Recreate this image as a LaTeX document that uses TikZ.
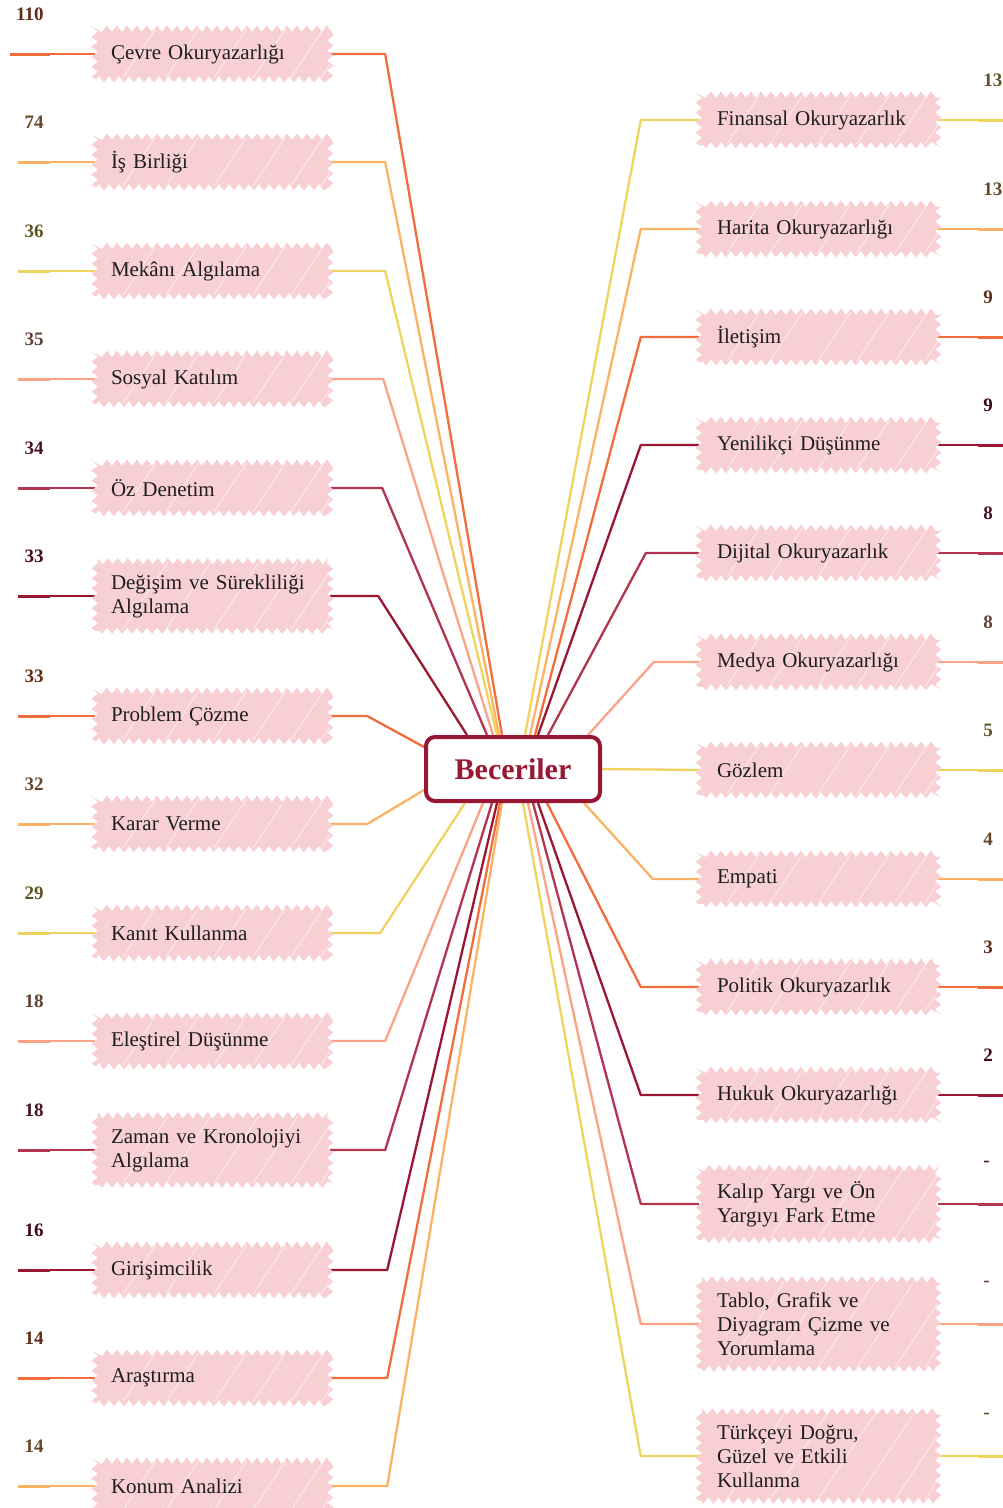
\documentclass[tikz,border=0pt]{standalone}
\usepackage{fontspec}
\setmainfont{Liberation Serif}
\usetikzlibrary{backgrounds,decorations.pathmorphing}

\definecolor{corange}{HTML}{F26D3D}
\definecolor{clight}{HTML}{FBB263}
\definecolor{cyellow}{HTML}{F0D35E}
\definecolor{csalmon}{HTML}{F9A387}
\definecolor{ccrim}{HTML}{B2344F}
\definecolor{cdark}{HTML}{9A1734}
\definecolor{boxpink}{HTML}{F8D0D3}
\definecolor{ink}{HTML}{1E1E1E}

\tikzset{
  box/.style={minimum height=48pt, inner ysep=12pt, align=left,
    font=\fontsize{21}{24}\selectfont, text=ink},
  lbox/.style={box, inner xsep=16pt, text width=203pt},
  rbox/.style={box, inner xsep=18pt, text width=203pt},
  num/.style={font=\fontsize{19}{20}\selectfont\bfseries, inner sep=0pt},
  link/.style={line width=2.3pt, line join=round},
  hub/.style={draw=cdark, line width=4pt, rounded corners=9pt, fill=white,
    minimum width=174pt, minimum height=64pt, text=cdark,
    font=\fontsize{30}{32}\selectfont\bfseries},
}

% pink scribbled backing behind a label box
\newcommand\pinkbox[1]{%
  \fill[boxpink, decorate, decoration={zigzag, segment length=10pt, amplitude=3.2pt}]
    ([yshift=-1pt]#1.south west) rectangle ([yshift=1pt]#1.north east);
  \begin{scope}
    \clip (#1.south west) rectangle (#1.north east);
    \foreach \s in {28,71,119,158,196,226}
      \draw[white, line width=0.6pt, opacity=0.8] ([xshift=\s pt]#1.south west) -- ++(70,-105);
  \end{scope}}

% left branch: connector to the hub plus the outer stub
\newcommand\lleg[5][32]{%
  \draw[link, #3] (#2.east) -- ++(#4,0) -- (#5);
  \draw[#3, line width=1.8pt] (#2.west) -- ++(-45,0);
  \draw[#3, line width=3pt] ([xshift=-45pt]#2.west) -- ++(-#1,0);}

% right branch
\newcommand\rleg[4]{%
  \draw[link, #2] (#1.west) -- ++(-#3,0) -- (#4);
  \draw[#2, line width=1.8pt] (#1.east) -- ++(40,0);
  \draw[#2, line width=3pt] ([xshift=40pt]#1.east) -- ++(26,0);}

\newcommand\lnum[3]{\node[num, text=#2!40!black, anchor=east] (#1n) at ([xshift=-51pt,yshift=40pt]#1.west) {#3};}
\newcommand\rnum[3]{\node[num, text=#2!40!black, anchor=west] (#1n) at ([xshift=45pt,yshift=40pt]#1.east) {#3};}

\begin{document}
\begin{tikzpicture}[x=1pt,y=-1pt]
\useasboundingbox (0,0) rectangle (1003,1508);

\node[hub] (hub) at (513,769) {Beceriler};

% left column
\node[lbox] (l1)  at (212.5,54)   {Çevre Okuryazarlığı};
\node[lbox] (l2)  at (212.5,162)  {İş Birliği};
\node[lbox] (l3)  at (212.5,271)  {Mekânı Algılama};
\node[lbox] (l4)  at (212.5,379)  {Sosyal Katılım};
\node[lbox] (l5)  at (212.5,488)  {Öz Denetim};
\node[lbox] (l6)  at (212.5,596)  {Değişim ve Sürekliliği\\Algılama};
\node[lbox] (l7)  at (212.5,716)  {Problem Çözme};
\node[lbox] (l8)  at (212.5,824)  {Karar Verme};
\node[lbox] (l9)  at (212.5,933)  {Kanıt Kullanma};
\node[lbox] (l10) at (212.5,1041) {Eleştirel Düşünme};
\node[lbox] (l11) at (212.5,1150) {Zaman ve Kronolojiyi\\Algılama};
\node[lbox] (l12) at (212.5,1270) {Girişimcilik};
\node[lbox] (l13) at (212.5,1378) {Araştırma};
\node[lbox] (l14) at (212.5,1486) {Konum Analizi};

% right column
\node[rbox] (r1)  at (818.5,120)  {Finansal Okuryazarlık};
\node[rbox] (r2)  at (818.5,229)  {Harita Okuryazarlığı};
\node[rbox] (r3)  at (818.5,337)  {İletişim};
\node[rbox] (r4)  at (818.5,445)  {Yenilikçi Düşünme};
\node[rbox] (r5)  at (818.5,553)  {Dijital Okuryazarlık};
\node[rbox] (r6)  at (818.5,662)  {Medya Okuryazarlığı};
\node[rbox] (r7)  at (818.5,770)  {Gözlem};
\node[rbox] (r8)  at (818.5,879)  {Empati};
\node[rbox] (r9)  at (818.5,987)  {Politik Okuryazarlık};
\node[rbox] (r10) at (818.5,1095) {Hukuk Okuryazarlığı};
\node[rbox] (r11) at (818.5,1204) {Kalıp Yargı ve Ön\\Yargıyı Fark Etme};
\node[rbox] (r12) at (818.5,1324) {Tablo, Grafik ve\\Diyagram Çizme ve\\Yorumlama};
\node[rbox] (r13) at (818.5,1456) {Türkçeyi Doğru,\\Güzel ve Etkili\\Kullanma};

% counts
\lnum{l1}{corange}{110}
\lnum{l2}{clight}{74}
\lnum{l3}{cyellow}{36}
\lnum{l4}{csalmon}{35}
\lnum{l5}{ccrim}{34}
\lnum{l6}{cdark}{33}
\lnum{l7}{corange}{33}
\lnum{l8}{clight}{32}
\lnum{l9}{cyellow}{29}
\lnum{l10}{csalmon}{18}
\lnum{l11}{ccrim}{18}
\lnum{l12}{cdark}{16}
\lnum{l13}{corange}{14}
\lnum{l14}{clight}{14}
\rnum{r1}{cyellow}{13}
\rnum{r2}{clight}{13}
\rnum{r3}{corange}{9}
\rnum{r4}{cdark}{9}
\rnum{r5}{ccrim}{8}
\rnum{r6}{csalmon}{8}
\rnum{r7}{cyellow}{5}
\rnum{r8}{clight}{4}
\rnum{r9}{corange}{3}
\rnum{r10}{cdark}{2}
\rnum{r11}{ccrim}{-}
\rnum{r12}{csalmon}{-}
\rnum{r13}{cyellow}{-}

\begin{pgfonlayer}{background}
  % connectors
  \lleg[40]{l1}{corange}{55}{[xshift=-11pt]hub.north}
  \lleg{l2}{clight}{55}{[xshift=-14pt]hub.north}
  \lleg{l3}{cyellow}{55}{[xshift=-16pt]hub.north}
  \lleg{l4}{csalmon}{53}{[xshift=-20pt]hub.north}
  \lleg{l5}{ccrim}{52}{[xshift=-26pt]hub.north}
  \lleg{l6}{cdark}{48}{[xshift=-46pt]hub.north}
  \lleg{l7}{corange}{37}{[yshift=22pt]hub.west}
  \lleg{l8}{clight}{37}{[yshift=-21pt]hub.west}
  \lleg{l9}{cyellow}{50}{[xshift=-48pt]hub.south}
  \lleg{l10}{csalmon}{55}{[xshift=-30pt]hub.south}
  \lleg{l11}{ccrim}{55}{[xshift=-21pt]hub.south}
  \lleg{l12}{cdark}{57}{[xshift=-16pt]hub.south}
  \lleg{l13}{corange}{57}{[xshift=-13pt]hub.south}
  \lleg{l14}{clight}{57}{[xshift=-11pt]hub.south}

  \rleg{r1}{cyellow}{58}{[xshift=12pt]hub.north}
  \rleg{r2}{clight}{58}{[xshift=17pt]hub.north}
  \rleg{r3}{corange}{58}{[xshift=22pt]hub.north}
  \rleg{r4}{cdark}{58}{[xshift=25pt]hub.north}
  \rleg{r5}{ccrim}{53}{[xshift=35pt]hub.north}
  \rleg{r6}{csalmon}{45}{[xshift=-14pt]hub.north east}
  \rleg{r7}{cyellow}{0}{hub.east}
  \rleg{r8}{clight}{46}{[xshift=-18pt]hub.south east}
  \rleg{r9}{corange}{58}{[xshift=34pt]hub.south}
  \rleg{r10}{cdark}{58}{[xshift=25pt]hub.south}
  \rleg{r11}{ccrim}{58}{[xshift=20pt]hub.south}
  \rleg{r12}{csalmon}{58}{[xshift=15pt]hub.south}
  \rleg{r13}{cyellow}{58}{[xshift=10pt]hub.south}

  % pink backings
  \foreach \b in {l1,l2,l3,l4,l5,l6,l7,l8,l9,l10,l11,l12,l13,l14,
                  r1,r2,r3,r4,r5,r6,r7,r8,r9,r10,r11,r12,r13}
    {\pinkbox{\b}}
\end{pgfonlayer}
\end{tikzpicture}
\end{document}
